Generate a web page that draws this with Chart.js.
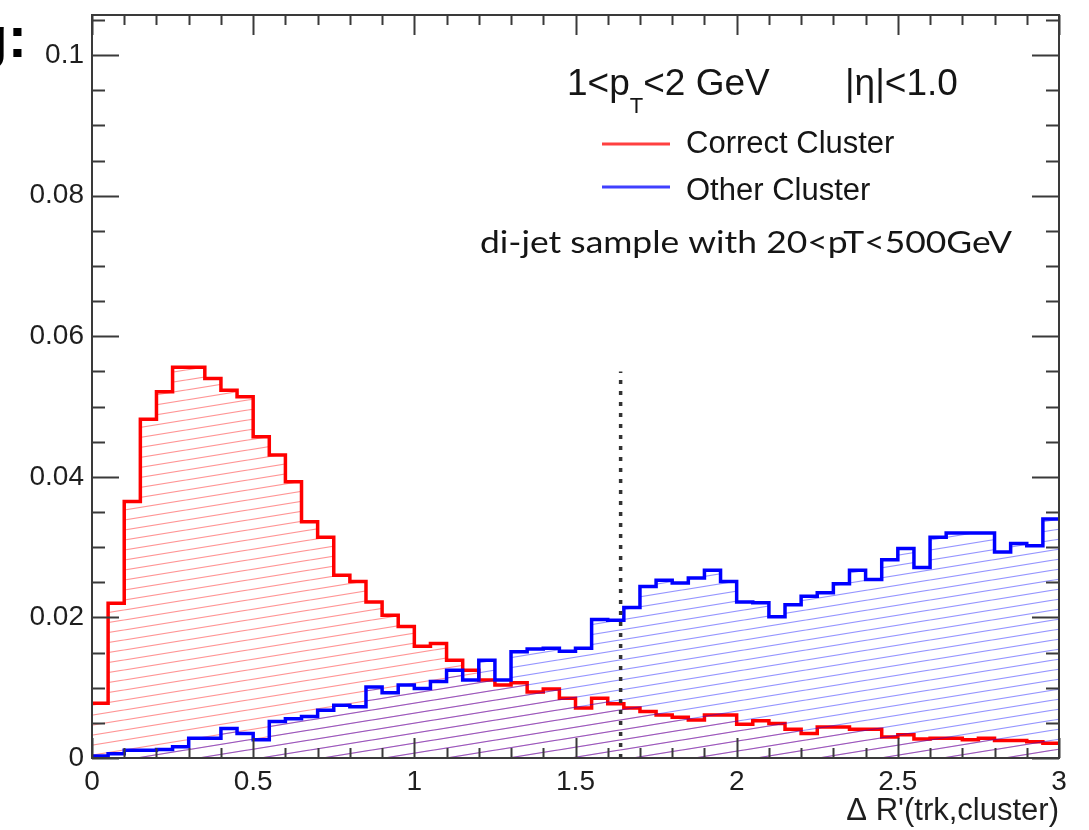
<!DOCTYPE html>
<html><head><meta charset="utf-8">
<script src="https://cdn.jsdelivr.net/npm/chart.js@4.4.1/dist/chart.umd.min.js"></script>
<style>html,body{margin:0;padding:0;background:#fff;}canvas{display:block;}</style>
</head><body>
<canvas id="c" width="1089" height="830"></canvas>
<script>
// ---- data ----
const binEdges = [0,0.05,0.1,0.15,0.2,0.25,0.3,0.35,0.4,0.45,0.5,0.55,0.6,0.65,0.7,0.75,0.8,0.85,0.9,0.95,
  1,1.05,1.1,1.15,1.2,1.25,1.3,1.35,1.4,1.45,1.5,1.55,1.6,1.65,1.7,1.75,1.8,1.85,1.9,1.95,
  2,2.05,2.1,2.15,2.2,2.25,2.3,2.35,2.4,2.45,2.5,2.55,2.6,2.65,2.7,2.75,2.8,2.85,2.9,2.95,3];
const correctCluster = [0.0078,0.0220,0.0365,0.0482,0.0521,0.0556,0.0556,0.0540,0.0523,0.0514,
  0.0457,0.0431,0.0393,0.0336,0.0314,0.0260,0.0251,0.0222,0.0203,0.0187,
  0.0159,0.0163,0.0139,0.0125,0.0111,0.0104,0.0107,0.0094,0.0098,0.0085,
  0.0071,0.0085,0.0077,0.0071,0.0066,0.0061,0.0058,0.0054,0.0061,0.0061,
  0.0048,0.0053,0.0049,0.0041,0.0035,0.0044,0.0044,0.0041,0.0041,0.0030,
  0.0033,0.0027,0.0028,0.0028,0.0026,0.0028,0.0025,0.0025,0.0023,0.0021];
const otherCluster = [0.0003,0.0006,0.0011,0.0011,0.0012,0.0016,0.0028,0.0028,0.0042,0.0035,
  0.0026,0.0052,0.0056,0.0059,0.0068,0.0075,0.0073,0.0101,0.0093,0.0104,
  0.0099,0.0109,0.0125,0.0111,0.0139,0.0111,0.0151,0.0155,0.0156,0.0152,
  0.0156,0.0197,0.0196,0.0214,0.0244,0.0253,0.0249,0.0256,0.0267,0.0251,
  0.0222,0.0221,0.0201,0.0218,0.0230,0.0235,0.0248,0.0267,0.0254,0.0282,
  0.0298,0.0271,0.0314,0.0320,0.0320,0.0320,0.0293,0.0305,0.0302,0.0340];
const seriesLabels = ['Correct Cluster', 'Other Cluster'];
const cutLine = [{x:1.64, y:0}, {x:1.64, y:0.055}];
const xTickValues = [0,0.5,1,1.5,2,2.5,3];
const yTickValues = [0,0.02,0.04,0.06,0.08,0.1];
const xRange = [0, 3];
const yRange = [0, 0.1057];
const xTitle = "\u0394 R'(trk,cluster)";

// ---- helpers ----
function histPoints(vals){
  const pts = vals.map((v,i)=>({x:binEdges[i], y:v}));
  pts.push({x:binEdges[vals.length], y:vals[vals.length-1]});
  return pts;
}
function hatch(color){
  const c = document.createElement('canvas');
  const W = 62, H = 10;
  c.width = W; c.height = H;
  const g = c.getContext('2d');
  g.strokeStyle = color; g.lineWidth = 1.2;
  for (const o of [-H, 0, H]) { g.beginPath(); g.moveTo(0, H + o); g.lineTo(W, o); g.stroke(); }
  return g.createPattern(c, 'repeat');
}
const RED = '#ff0000', BLUE = '#0000ff';
const FONT = "'Liberation Sans', Arial, Helvetica, sans-serif";

const decor = {
  id: 'decor',
  afterDatasetsDraw(chart){
    const {ctx, chartArea:a, scales:{x, y}} = chart;
    ctx.save();
    ctx.strokeStyle = '#3a3a3a'; ctx.lineWidth = 2;
    ctx.beginPath();
    for (let k = 0; k <= 30; k++) {
      const v = k * 0.1; const px = Math.round(x.getPixelForValue(v)) + 0.5;
      const major = k % 5 === 0; const L = major ? 20 : 10;
      ctx.moveTo(px, a.bottom); ctx.lineTo(px, a.bottom - L);
      ctx.moveTo(px, a.top); ctx.lineTo(px, a.top + L);
    }
    for (let k = 0; k <= 21; k++) {
      const v = k * 0.005; const py = Math.round(y.getPixelForValue(v)) + 0.5;
      const major = k % 4 === 0; const L = major ? 27 : 13;
      ctx.moveTo(a.left, py); ctx.lineTo(a.left + L, py);
      ctx.moveTo(a.right, py); ctx.lineTo(a.right - L, py);
    }
    ctx.stroke();
    ctx.strokeRect(a.left, a.top, a.right - a.left, a.bottom - a.top);

    // header text
    ctx.fillStyle = '#151515';
    ctx.textBaseline = 'alphabetic'; ctx.textAlign = 'left';
    ctx.font = `37px ${FONT}`;
    let tx = 567;
    ctx.fillText('1<p', tx, 95); tx += ctx.measureText('1<p').width;
    ctx.font = `22px ${FONT}`;
    ctx.fillText('T', tx, 113); tx += ctx.measureText('T').width;
    ctx.font = `37px ${FONT}`;
    ctx.fillText('<2 GeV', tx, 95);
    ctx.fillText('|\u03b7|<1.0', 845, 95);

    // legend
    const ds = chart.data.datasets;
    ctx.font = `31px ${FONT}`;
    [[0,144,153],[1,187,200]].forEach(([i, ly, by]) => {
      ctx.strokeStyle = ds[i].borderColor; ctx.globalAlpha = 0.75; ctx.lineWidth = 3;
      ctx.beginPath(); ctx.moveTo(602, ly); ctx.lineTo(670, ly); ctx.stroke();
      ctx.globalAlpha = 1;
      ctx.fillText(ds[i].label, 686, by);
    });

    // sample note, fitted to the reference width
    const note = 'di-jet sample with 20<pT<500GeV';
    ctx.font = "31px Lato, 'Open Sans', sans-serif";
    const w = ctx.measureText(note).width;
    const sx = 532 / w;
    ctx.save();
    ctx.translate(1012, 253); ctx.scale(sx, 1);
    ctx.textAlign = 'right';
    ctx.fillText(note, 0, 0);
    ctx.restore();

    ctx.font = `bold 58px ${FONT}`;
    ctx.fillStyle = '#000';
    ctx.textAlign = 'right';
    ctx.fillText('g:', 27, 57);
    ctx.restore();
  }
};

new Chart(document.getElementById('c'), {
  type: 'line',
  data: {
    datasets: [
      { label: seriesLabels[0], data: histPoints(correctCluster), stepped: 'before',
        borderColor: RED, borderWidth: 3.5, pointRadius: 0, fill: 'origin',
        backgroundColor: hatch('rgba(255,0,0,0.42)'), order: 2 },
      { label: seriesLabels[1], data: histPoints(otherCluster), stepped: 'before',
        borderColor: BLUE, borderWidth: 3.5, pointRadius: 0, fill: 'origin',
        backgroundColor: hatch('rgba(0,0,255,0.42)'), order: 1 },
      { label: 'cut', data: cutLine, borderColor: '#333', borderWidth: 3.5,
        borderDash: [4, 7], pointRadius: 0, fill: false, order: 0 }
    ]
  },
  options: {
    responsive: false, animation: false,
    layout: { padding: { top: 15, right: 30, left: 0, bottom: 0 } },
    plugins: { legend: { display: false }, tooltip: { enabled: false } },
    scales: {
      x: {
        type: 'linear', min: xRange[0], max: xRange[1],
        afterFit: s => { s.height = 72; s.paddingLeft = 0; s.paddingRight = 0; },
        afterBuildTicks: s => { s.ticks = xTickValues.map(v => ({ value: v })); },
        grid: { display: false, drawTicks: false }, border: { display: false },
        ticks: { padding: 7, color: '#1e1e1e', font: { family: FONT, size: 28 },
          maxRotation: 0, autoSkip: false, callback: v => String(v) },
        title: { display: true, text: xTitle, align: 'end', color: '#1e1e1e',
          font: { family: FONT, size: 31 }, padding: { top: 0, bottom: 0 } }
      },
      y: {
        type: 'linear', min: yRange[0], max: yRange[1],
        afterFit: s => { s.width = 92; s.paddingTop = 0; s.paddingBottom = 0; },
        afterBuildTicks: s => { s.ticks = yTickValues.map(v => ({ value: v })); },
        grid: { display: false, drawTicks: false }, border: { display: false },
        ticks: { padding: 8, color: '#1e1e1e', font: { family: FONT, size: 28 },
          autoSkip: false, callback: v => String(v) }
      }
    }
  },
  plugins: [decor]
});
</script>
</body></html>
